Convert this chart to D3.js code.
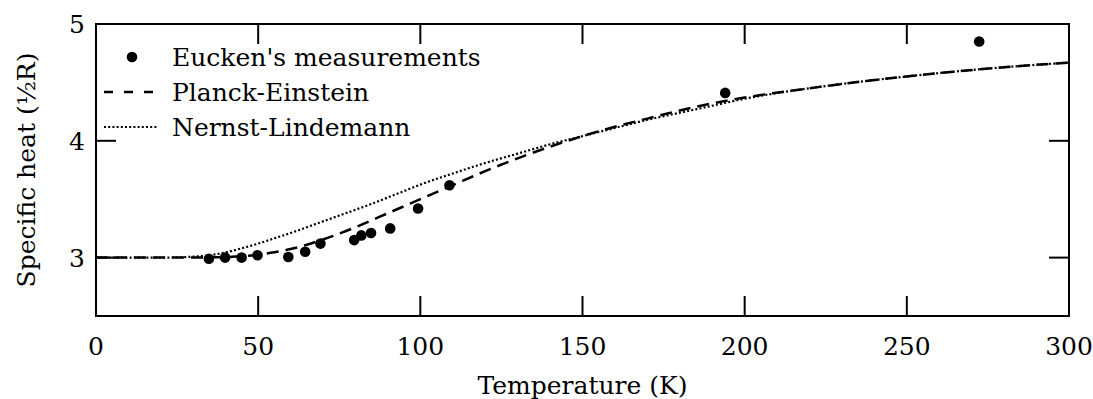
<!DOCTYPE html>
<html><head><meta charset="utf-8">
<script src="https://cdn.jsdelivr.net/npm/d3@7"></script>
<style>
html,body{margin:0;padding:0;background:#fff;}
svg{display:block;}
text{font-family:"DejaVu Serif",serif;fill:#000;}
</style></head>
<body>
<svg id="c" width="1093" height="399"></svg>
<script>
// Eucken's measurements
const euckenT = [34.8, 39.8, 44.9, 49.8, 59.3, 64.5, 69.2, 79.6, 81.8, 84.8, 90.7, 99.3, 109.0, 194.0, 272.3];
const euckenC = [2.99, 3.00, 3.00, 3.02, 3.005, 3.05, 3.12, 3.15, 3.19, 3.21, 3.25, 3.42, 3.62, 4.41, 4.85];

// Planck-Einstein curve
const planckT = [0, 10, 20, 30, 35, 40, 45, 50, 55, 60, 65, 70, 75, 80, 85, 90, 95, 100, 110, 120, 130, 140, 150, 160, 170, 180, 190, 200, 220, 240, 260, 280, 300];
const planckC = [3.0, 3.0, 3.0, 3.0, 3.002, 3.005, 3.012, 3.025, 3.045, 3.073, 3.11, 3.155, 3.205, 3.26, 3.32, 3.38, 3.44, 3.50, 3.62, 3.74, 3.85, 3.95, 4.04, 4.12, 4.19, 4.26, 4.32, 4.37, 4.45, 4.52, 4.58, 4.63, 4.67];

// Nernst-Lindemann curve
const nernstT = [0, 10, 20, 25, 30, 35, 40, 45, 50, 55, 60, 65, 70, 75, 80, 85, 90, 95, 100, 110, 120, 130, 140, 150, 160, 170, 180, 190, 200, 220, 240, 260, 280, 300];
const nernstC = [3.0, 3.0, 3.0, 3.002, 3.008, 3.02, 3.045, 3.08, 3.12, 3.165, 3.21, 3.26, 3.31, 3.36, 3.41, 3.46, 3.515, 3.57, 3.625, 3.72, 3.81, 3.89, 3.97, 4.04, 4.11, 4.18, 4.24, 4.30, 4.36, 4.45, 4.52, 4.58, 4.63, 4.67];

const xTicks = [0, 50, 100, 150, 200, 250, 300];
const yTicks = [3, 4, 5];
const legendLabels = ["Eucken's measurements", "Planck-Einstein", "Nernst-Lindemann"];

const svg = d3.select("#c");
const L = 96, R = 1069, T = 24, B = 316;
const x = d3.scaleLinear().domain([0, 300]).range([L, R]);
const y = d3.scaleLinear().domain([2.5, 5]).range([B, T]);

const fs = 25;
// x tick labels
svg.selectAll(".xt").data(xTicks).enter().append("text")
  .attr("x", d => x(d)).attr("y", 355).attr("text-anchor", "middle")
  .attr("font-size", fs).text(d => d);
// y tick labels
svg.selectAll(".yt").data(yTicks).enter().append("text")
  .attr("x", 85).attr("y", d => y(d) + 9).attr("text-anchor", "end")
  .attr("font-size", fs).text(d => d);
// axis titles
svg.append("text").attr("x", (L + R) / 2).attr("y", 394).attr("text-anchor", "middle")
  .attr("font-size", fs).text("Temperature (K)");
svg.append("text").attr("transform", `translate(35,${(T + B) / 2}) rotate(-90)`)
  .attr("text-anchor", "middle").attr("font-size", fs).text("Specific heat (½R)");

// ticks (inward) on all sides
const tl = 20;
const tk = svg.append("g").attr("stroke", "#000").attr("stroke-width", 2);
xTicks.slice(1, -1).forEach(d => {
  tk.append("line").attr("x1", x(d)).attr("x2", x(d)).attr("y1", B).attr("y2", B - tl);
  tk.append("line").attr("x1", x(d)).attr("x2", x(d)).attr("y1", T).attr("y2", T + tl);
});
yTicks.filter(d => d < 5).forEach(d => {
  tk.append("line").attr("x1", L).attr("x2", L + tl).attr("y1", y(d)).attr("y2", y(d));
  tk.append("line").attr("x1", R).attr("x2", R - tl).attr("y1", y(d)).attr("y2", y(d));
});

// curves
const lineP = d3.line().x(d => x(d[0])).y(d => y(d[1])).curve(d3.curveMonotoneX);
svg.append("path").datum(planckT.map((t, i) => [t, planckC[i]]))
  .attr("d", lineP).attr("fill", "none").attr("stroke", "#000")
  .attr("stroke-width", 2.5).attr("stroke-dasharray", "12,7");
svg.append("path").datum(nernstT.map((t, i) => [t, nernstC[i]]))
  .attr("d", lineP).attr("fill", "none").attr("stroke", "#000")
  .attr("stroke-width", 2.2).attr("stroke-dasharray", "2,2.2");

// points
svg.selectAll(".pt").data(euckenT.map((t, i) => [t, euckenC[i]])).enter().append("circle")
  .attr("cx", d => x(d[0])).attr("cy", d => y(d[1])).attr("r", 5.3).attr("fill", "#000");

// frame
svg.append("rect").attr("x", L).attr("y", T).attr("width", R - L).attr("height", B - T)
  .attr("fill", "none").attr("stroke", "#000").attr("stroke-width", 2);

// legend
const lg = svg.append("g");
const rowY = [57, 92, 127];
lg.append("circle").attr("cx", 132).attr("cy", rowY[0]).attr("r", 5.3).attr("fill", "#000");
lg.append("line").attr("x1", 104).attr("x2", 158).attr("y1", rowY[1]).attr("y2", rowY[1])
  .attr("stroke", "#000").attr("stroke-width", 2.5).attr("stroke-dasharray", "9,11");
lg.append("line").attr("x1", 104).attr("x2", 158).attr("y1", rowY[2]).attr("y2", rowY[2])
  .attr("stroke", "#000").attr("stroke-width", 2.2).attr("stroke-dasharray", "2,2.2");
legendLabels.forEach((s, i) => {
  lg.append("text").attr("x", 172).attr("y", rowY[i] + 9).attr("font-size", fs).text(s);
});
</script>
</body></html>
